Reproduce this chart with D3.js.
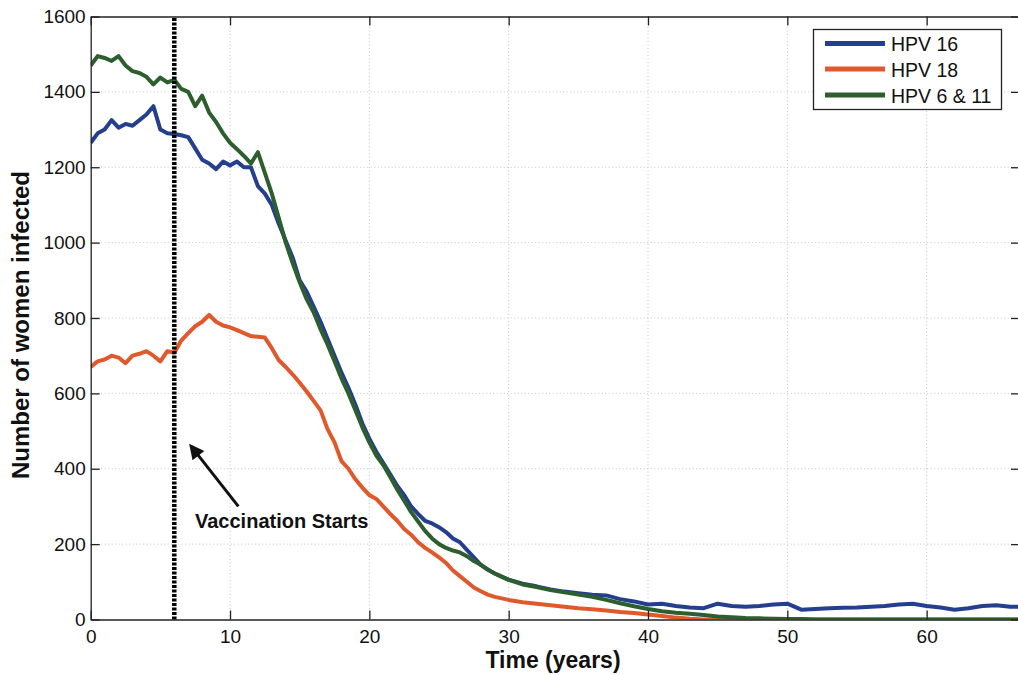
<!DOCTYPE html>
<html>
<head>
<meta charset="utf-8">
<script src="https://cdn.jsdelivr.net/npm/d3@7"></script>
<style>
  html, body { margin: 0; padding: 0; background: #fff; }
  svg { display: block; }
  text { font-family: "Liberation Sans", Arial, Helvetica, sans-serif; fill: #111; }
</style>
</head>
<body>
<svg id="chart" width="1018" height="675"></svg>
<script>
// ---------------- data ----------------
const years = [
  0,0.5,1,1.5,2,2.5,3,3.5,4,4.5,5,5.5,6,6.5,7,7.5,8,8.5,9,9.5,
  10,10.5,11,11.5,12,12.5,13,13.5,14,14.5,15,15.5,16,16.5,17,17.5,18,18.5,19,19.5,
  20,20.5,21,21.5,22,22.5,23,23.5,24,24.5,25,25.5,26,26.5,27,27.5,28,28.5,29,29.5,30,
  31,32,33,34,35,36,37,38,39,40,41,42,43,44,45,46,47,48,49,50,
  51,52,53,54,55,56,57,58,59,60,61,62,63,64,65,66,67
];
const hpv16 = [
  1265,1290,1300,1325,1305,1315,1310,1325,1340,1362,1300,1290,1288,1285,1280,1250,1220,1210,1195,1215,
  1205,1215,1200,1200,1150,1130,1100,1050,1005,960,900,870,830,790,745,700,655,615,570,520,
  480,445,415,385,355,330,300,280,262,255,245,232,215,205,185,165,145,133,122,114,106,
  95,88,80,74,70,66,64,54,48,40,42,36,32,30,42,36,34,36,40,42,
  26,28,30,31,32,34,36,40,42,36,32,26,30,36,38,34,34
];
const hpv18 = [
  670,685,690,700,695,680,700,705,712,700,685,712,708,740,760,778,790,808,790,780,
  775,768,760,752,750,748,720,688,670,650,628,605,580,555,505,470,420,400,372,350,
  330,320,300,280,262,240,225,205,190,178,165,150,130,115,100,85,75,66,60,56,52,
  46,42,38,34,30,27,24,20,17,13,9,5,2,0,0,0,0,0,0,0,
  0,0,0,0,0,0,0,0,0,0,0,0,0,0,0,0,0
];
const hpv611 = [
  1470,1495,1490,1482,1495,1470,1455,1450,1440,1420,1438,1425,1432,1408,1400,1362,1390,1345,1320,1290,
  1265,1248,1230,1210,1240,1185,1130,1065,1000,945,895,850,815,770,730,685,640,600,555,510,
  470,435,410,378,345,315,285,260,235,215,200,190,183,178,168,155,145,132,122,113,105,
  93,86,78,72,66,60,52,43,35,28,22,18,15,12,8,6,4,3,2,1,
  1,0,0,0,0,0,0,0,0,0,0,0,0,0,0,0,0
];
const seriesNames = ["HPV 16", "HPV 18", "HPV 6 & 11"];
const seriesColors = ["#253f8f", "#e0592c", "#2d5e2e"];
const xTicks = [0,10,20,30,40,50,60];
const yTicks = [0,200,400,600,800,1000,1200,1400,1600];
const vaccinationYear = [6];
const annotationText = ["Vaccination Starts"];
const arrowFrom = [10.6, 300];   // [year, count]
const arrowTo = [7.2, 460];

// ---------------- layout ----------------
const svg = d3.select("#chart");
const pLeft = 90.7, pRight = 1020, pTop = 16.5, pBottom = 619.5;
const x = d3.scaleLinear().domain([0, 66.7]).range([pLeft, pRight]);
const y = d3.scaleLinear().domain([0, 1600]).range([pBottom, pTop]);

svg.append("rect").attr("width", 1018).attr("height", 675).attr("fill", "#fff");

const defs = svg.append("defs");
defs.append("clipPath").attr("id", "plotclip")
  .append("rect").attr("x", pLeft).attr("y", pTop).attr("width", pRight - pLeft).attr("height", pBottom - pTop);

// grid
const grid = svg.append("g").attr("stroke", "#c4c4c4").attr("stroke-width", 1).attr("stroke-dasharray", "1,2.5");
grid.selectAll("line.v").data(xTicks.filter(d => d > 0)).enter().append("line").attr("class", "v")
  .attr("x1", d => x(d)).attr("x2", d => x(d)).attr("y1", pTop).attr("y2", pBottom);
grid.selectAll("line.h").data(yTicks.filter(d => d > 0 && d < 1600)).enter().append("line").attr("class", "h")
  .attr("y1", d => y(d)).attr("y2", d => y(d)).attr("x1", pLeft).attr("x2", pRight);

// series
const line = d3.line().x((d, i) => x(years[i])).y(d => y(d)).curve(d3.curveLinear);
const plot = svg.append("g").attr("clip-path", "url(#plotclip)");
[hpv16, hpv18, hpv611].forEach((vals, k) => {
  plot.append("path").datum(vals)
    .attr("d", line)
    .attr("fill", "none")
    .attr("stroke", seriesColors[k])
    .attr("stroke-width", 4)
    .attr("stroke-linejoin", "round");
});

// vaccination line
svg.append("g").selectAll("line").data(vaccinationYear).enter().append("line")
  .attr("x1", d => x(d)).attr("x2", d => x(d))
  .attr("y1", y(0)).attr("y2", y(1600))
  .attr("stroke", "#000").attr("stroke-width", 4.5).attr("stroke-dasharray", "3,1.5");

// axes
const fontSize = 19;
const fmt = d3.format("d");
svg.append("g").attr("transform", `translate(0,${pBottom})`)
  .call(d3.axisBottom(x).tickValues(xTicks).tickFormat(fmt).tickSizeInner(-9).tickSizeOuter(0).tickPadding(10.5));
svg.append("g").attr("transform", `translate(${pLeft},0)`)
  .call(d3.axisLeft(y).tickValues(yTicks).tickFormat(fmt).tickSizeInner(-9).tickSizeOuter(0).tickPadding(5));
svg.append("g").attr("transform", `translate(0,${pTop})`)
  .call(d3.axisTop(x).tickValues(xTicks).tickSizeInner(-9).tickSizeOuter(0).tickFormat(""));
svg.append("g").attr("transform", `translate(${pRight},0)`)
  .call(d3.axisRight(y).tickValues(yTicks).tickSizeInner(-9).tickSizeOuter(0).tickFormat(""));
svg.selectAll(".domain").attr("stroke", "#222").attr("stroke-width", 1.3);
svg.selectAll(".tick line").attr("stroke", "#222").attr("stroke-width", 1.3);
svg.selectAll(".tick text").style("font-size", fontSize + "px").attr("fill", "#111")
  .style("font-family", "'Liberation Sans', Arial, sans-serif");

// axis titles
svg.append("text").attr("x", 553).attr("y", 668).attr("text-anchor", "middle")
  .style("font-size", "23px").style("font-weight", "bold").text("Time (years)");
svg.append("text").attr("transform", "translate(29,325) rotate(-90)").attr("text-anchor", "middle")
  .style("font-size", "24px").style("font-weight", "bold").text("Number of women infected");

// annotation arrow
defs.append("marker").attr("id", "arrowhead").attr("viewBox", "0 0 10 10")
  .attr("refX", 8).attr("refY", 5).attr("markerWidth", 6).attr("markerHeight", 5)
  .attr("orient", "auto").attr("markerUnits", "strokeWidth")
  .append("path").attr("d", "M0,0 L10,5 L0,10 Z").attr("fill", "#111");
svg.append("line")
  .attr("x1", x(arrowFrom[0])).attr("y1", y(arrowFrom[1]))
  .attr("x2", x(arrowTo[0])).attr("y2", y(arrowTo[1]))
  .attr("stroke", "#111").attr("stroke-width", 3).attr("marker-end", "url(#arrowhead)");
svg.append("text").attr("x", 195).attr("y", 528)
  .style("font-size", "20px").style("font-weight", "bold").text(annotationText[0]);

// legend
const lg = svg.append("g");
lg.append("rect").attr("x", 813.5).attr("y", 29.5).attr("width", 188).attr("height", 80)
  .attr("fill", "#fff").attr("stroke", "#222").attr("stroke-width", 1.3);
const lgRowsY = [43.5, 69, 95];
seriesNames.forEach((name, i) => {
  lg.append("line").attr("x1", 825).attr("x2", 885).attr("y1", lgRowsY[i]).attr("y2", lgRowsY[i])
    .attr("stroke", seriesColors[i]).attr("stroke-width", 5);
  lg.append("text").attr("x", 891).attr("y", lgRowsY[i] + 7.5)
    .style("font-size", "19.5px").text(name);
});
</script>
</body>
</html>
